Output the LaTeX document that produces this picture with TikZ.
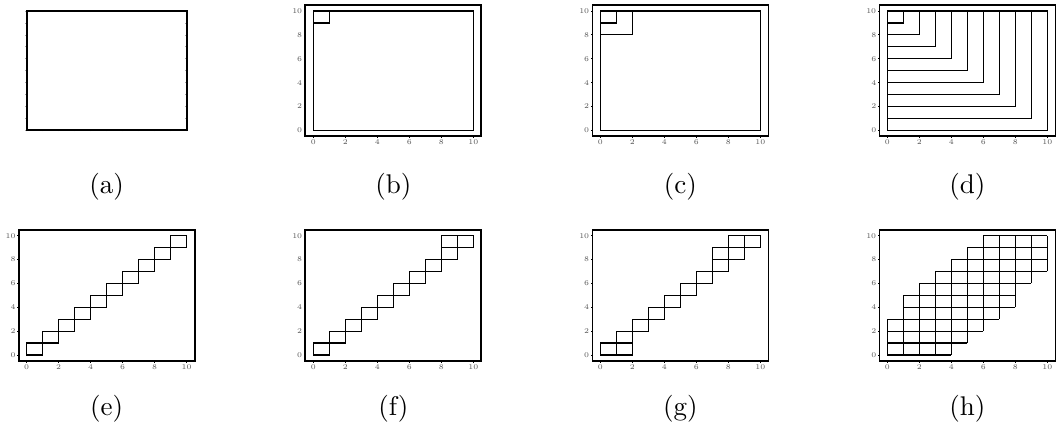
\documentclass[tikz,border=0pt]{standalone}
\usepackage{tikz}
\definecolor{ticktext}{HTML}{555555}

\begin{document}
\begin{tikzpicture}[x=0.37pt, y=0.37pt,
    cell/.style={line width=0.45pt, line join=miter},
    frame/.style={line width=0.6pt},
    tick/.style={line width=0.3pt},
    minortick/.style={line width=0.25pt, gray!70},
    ticklabel/.style={font=\fontsize{2.7}{2.9}\selectfont, text=ticktext, inner sep=0pt},
    caption/.style={font=\normalsize, inner sep=0pt}
  ]
    \useasboundingbox (0,0) rectangle (1057,432);

    % axes frames with labelled ticks, panels (b)--(h)
    \foreach \px/\py in {313.3/301.7, 600.3/301.7, 887.3/301.7,
                         26.7/77, 313.3/77, 600.3/77, 887.3/77} {
      \begin{scope}[shift={(\px,\py)}, xscale=16, yscale=11.93]
        \draw[frame] (-0.5,-0.5) rectangle (10.5,10.5);
        \foreach \t in {0,2,...,10} {
          \draw[tick] (\t,-0.5) -- (\t,-0.65);
          \draw[tick] (-0.5,\t) -- (-0.6,\t);
          \node[ticklabel, anchor=north] (xt\t) at (\t,-0.75) {\t};
          \node[ticklabel, anchor=east] (yt\t) at (-0.66,\t) {\t};
        }
      \end{scope}
    }

    % (a)
    \begin{scope}[shift={(26.7,301.7)}, xscale=16, yscale=11.93]
      \foreach \i in {0,...,10} {
        \draw[minortick] (\i,-0.1) -- (\i,0.1);
        \draw[minortick] (\i,9.9) -- (\i,10.1);
        \draw[minortick] (-0.1,\i) -- (0.1,\i);
        \draw[minortick] (9.9,\i) -- (10.1,\i);
      }
      \draw[frame] (0,0) rectangle (10,10);
    \end{scope}

    % (b)
    \begin{scope}[shift={(313.3,301.7)}, xscale=16, yscale=11.93]
      \draw[cell] (0,0) rectangle (10,10);
      \draw[cell] (0,9) rectangle (1,10);
    \end{scope}

    % (c)
    \begin{scope}[shift={(600.3,301.7)}, xscale=16, yscale=11.93]
      \draw[cell] (0,0) rectangle (10,10);
      \draw[cell] (0,9) rectangle (1,10);
      \draw[cell] (0,8) rectangle (2,10);
    \end{scope}

    % (d)
    \begin{scope}[shift={(887.3,301.7)}, xscale=16, yscale=11.93]
      \foreach \k in {1,...,10}
        \draw[cell] (0,10-\k) rectangle (\k,10);
    \end{scope}

    % (e)
    \begin{scope}[shift={(26.7,77)}, xscale=16, yscale=11.93]
      \foreach \i in {0,...,9}
        \draw[cell] (\i,\i) rectangle ++(1,1);
    \end{scope}

    % (f)
    \begin{scope}[shift={(313.3,77)}, xscale=16, yscale=11.93]
      \foreach \i in {0,...,9}
        \draw[cell] (\i,\i) rectangle ++(1,1);
      \draw[cell] (8,9) rectangle ++(1,1);
    \end{scope}

    % (g)
    \begin{scope}[shift={(600.3,77)}, xscale=16, yscale=11.93]
      \foreach \i in {0,...,9}
        \draw[cell] (\i,\i) rectangle ++(1,1);
      \foreach \a/\b in {1/0, 7/8, 8/9}
        \draw[cell] (\a,\b) rectangle ++(1,1);
    \end{scope}

    % (h)
    \begin{scope}[shift={(887.3,77)}, xscale=16, yscale=11.93]
      \foreach \j/\a/\b in {0/0/4, 1/0/5, 2/0/6, 3/1/7, 4/1/8,
                            5/2/8, 6/3/9, 7/4/10, 8/5/10, 9/6/10} {
        \draw[cell] (\a,\j) -- (\b,\j);
        \draw[cell] (\a,\j+1) -- (\b,\j+1);
        \foreach \x in {\a,...,\b}
          \draw[cell] (\x,\j) -- (\x,\j+1);
      }
    \end{scope}

    % captions
    \node[caption] (capa) at (106.7,245) {(a)};
    \node[caption] (capb) at (393.3,245) {(b)};
    \node[caption] (capc) at (680.3,245) {(c)};
    \node[caption] (capd) at (967.3,245) {(d)};
    \node[caption] (cape) at (106.7,23) {(e)};
    \node[caption] (capf) at (393.3,23) {(f)};
    \node[caption] (capg) at (680.3,23) {(g)};
    \node[caption] (caph) at (967.3,23) {(h)};
  \end{tikzpicture}
\end{document}
